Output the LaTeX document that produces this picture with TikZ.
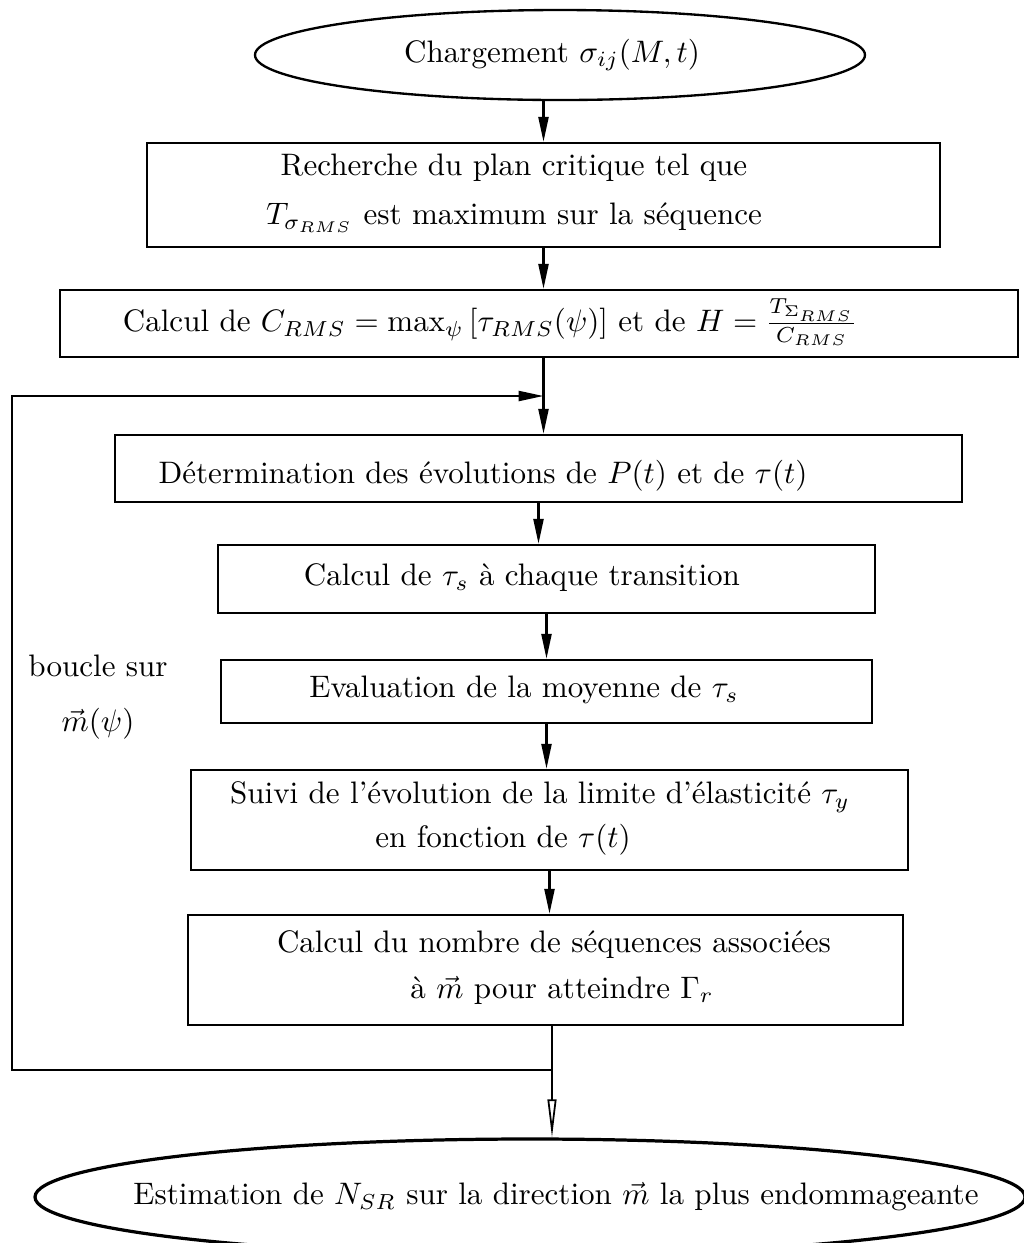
\RequirePackage{fix-cm}
\documentclass[tikz,border=0pt]{standalone}
\usetikzlibrary{shapes.geometric,arrows.meta}
\newdimen\pxu \pxu=0.012cm
\begin{document}
\begin{tikzpicture}[x=0.012cm,y=-0.012cm,
  bx/.style={draw, line width=0.8pt, inner sep=0pt},
  el/.style={draw, ellipse, line width=0.8pt, inner sep=0pt},
  tx/.style={inner sep=0pt, align=center, font=\fontsize{10.6pt}{12.8pt}\selectfont},
  arr/.style={line width=0.8pt, -{Triangle[length=8.5pt,width=3.4pt]}},
  oarr/.style={line width=0.6pt, -{Triangle[open,length=13pt,width=3pt]}}]
\useasboundingbox (0,0) rectangle (1023,1243);
% nodes
\node[el, minimum width=610\pxu, minimum height=90\pxu] (e1) at (560,55) {};
\node[tx] (t1) at (552,55) {Chargement $\sigma_{ij}(M,t)$};
\node[bx, minimum width=793\pxu, minimum height=104\pxu] (b1) at (543.5,195) {};
\node[tx] (t2) at (514,193) {Recherche du plan critique tel que\\[4pt] $T_{\sigma_{RMS}}$ est maximum sur la s\'equence};
\node[bx, minimum width=958\pxu, minimum height=67\pxu] (b2) at (539,323.5) {};
\node[tx] (t3) at (490,322) {Calcul de $C_{RMS}=\max_{\psi}\left[\tau_{RMS}(\psi)\right]$ et de $H=\frac{T_{\Sigma_{RMS}}}{C_{RMS}}$};
\node[bx, minimum width=847\pxu, minimum height=67\pxu] (b3) at (538.5,468.5) {};
\node[tx] (t4) at (483,476) {D\'etermination des \'evolutions de $P(t)$ et de $\tau(t)$};
\node[bx, minimum width=657\pxu, minimum height=68\pxu] (b4) at (546.5,579) {};
\node[tx] (t5) at (522,578) {Calcul de $\tau_s$ \`a chaque transition};
\node[bx, minimum width=651\pxu, minimum height=63\pxu] (b5) at (546.5,691.5) {};
\node[tx] (t6) at (524,690) {Evaluation de la moyenne de $\tau_s$};
\node[bx, minimum width=717\pxu, minimum height=100\pxu] (b6) at (549.5,820) {};
\node[tx] (t7) at (540,797) {Suivi de l'\'evolution de la limite d'\'elasticit\'e $\tau_y$};
\node[tx] (t8) at (503,840) {en fonction de $\tau(t)$};
\node[bx, minimum width=715\pxu, minimum height=110\pxu] (b7) at (545.5,970) {};
\node[tx] (t9) at (554,945) {Calcul du nombre de s\'equences associ\'ees};
\node[tx] (t10) at (562,990) {\`a $\vec m$ pour atteindre $\Gamma_r$};
\node[el, line width=1.1pt, minimum width=990\pxu, minimum height=116\pxu] (e2) at (530,1197) {};
\node[tx] (t11) at (556,1197) {Estimation de $N_{SR}$ sur la direction $\vec m$ la plus endommageante};
\node[tx] (lab) at (98,697) {boucle sur\\[6pt]$\vec m(\psi)$};
% connectors
\draw[arr] (b1.north |- e1.south) -- (b1.north);
\draw[arr] (b1.south) -- (b2.north -| b1.south);
\draw[arr] (b2.south -| b1.south) -- (b3.north -| b1.south);
\draw[arr] (b3.south) -- (b4.north -| b3.south);
\draw[arr] (b4.south) -- (b5.north -| b4.south);
\draw[arr] (b5.south) -- (b6.north -| b5.south);
\draw[arr] (b6.south) -- (b7.north -| b6.south);
\coordinate (j1) at (552,1070);
\coordinate (lb) at (12,1070);
\coordinate (lt) at (12,396);
\coordinate (j2) at (b1.south |- lt);
\draw[line width=0.8pt] (j1 |- b7.south) -- (j1);
\draw[arr] (j1) -- (lb) -- (lt) -- (j2);
\draw[oarr] (j1) -- (j1 |- e2.north);
\end{tikzpicture}
\end{document}
